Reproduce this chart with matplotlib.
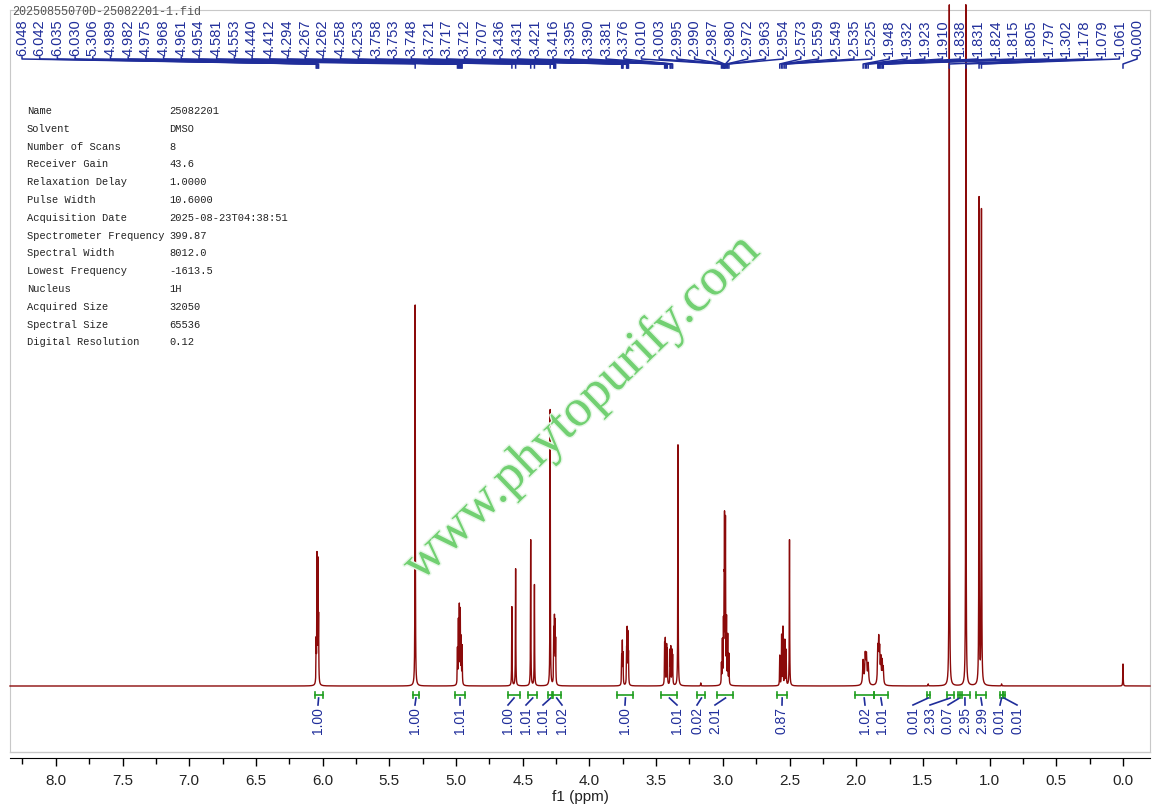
import numpy as np
import matplotlib.pyplot as plt
from matplotlib import patheffects as pe

plt.rcParams['font.family'] = ['Liberation Sans', 'DejaVu Sans']

title = '20250855070D-25082201-1.fid'

param_names = ['Name', 'Solvent', 'Number of Scans', 'Receiver Gain',
               'Relaxation Delay', 'Pulse Width', 'Acquisition Date',
               'Spectrometer Frequency', 'Spectral Width', 'Lowest Frequency',
               'Nucleus', 'Acquired Size', 'Spectral Size', 'Digital Resolution']
param_values = ['25082201', 'DMSO', '8', '43.6', '1.0000', '10.6000',
                '2025-08-23T04:38:51', '399.87', '8012.0', '-1613.5', '1H',
                '32050', '65536', '0.12']

# peak list (ppm, height in plot units, half width)
peak_ppm = [6.048, 6.042, 6.035, 6.030,
            5.306,
            4.989, 4.982, 4.975, 4.968, 4.961, 4.954,
            4.581, 4.553, 4.440, 4.412, 4.294,
            4.267, 4.262, 4.258, 4.253,
            3.758, 3.753, 3.748, 3.721, 3.717, 3.712, 3.707,
            3.436, 3.431, 3.421, 3.416, 3.395, 3.390, 3.381, 3.376,
            3.336, 3.165,
            3.010, 3.003, 2.995, 2.990, 2.987, 2.980, 2.972, 2.963, 2.954,
            2.573, 2.559, 2.549, 2.535, 2.525, 2.500,
            1.948, 1.932, 1.923, 1.910,
            1.838, 1.831, 1.824, 1.815, 1.805, 1.797,
            1.460, 1.302, 1.178, 1.079, 1.061, 0.910, 0.000]
peak_height = [40, 126, 118, 62,
               381,
               35, 62, 76, 72, 45, 38,
               79, 117, 146, 101, 276,
               52, 59, 55, 42,
               28, 41, 30, 32, 51, 48, 30,
               40, 44, 38, 34, 33, 36, 33, 28,
               241, 3,
               20, 42, 55, 75, 150, 159, 62, 48, 30,
               30, 50, 58, 45, 35, 146,
               24, 28, 27, 20,
               34, 40, 31, 24, 22, 16,
               2, 681, 681, 486, 474, 2, 22]
peak_hwhm = [0.0015] * 52 + [0.004] * 4 + [0.003] * 6 + [0.0015] * 7

label_ppm = ['6.048', '6.042', '6.035', '6.030', '5.306', '4.989', '4.982',
             '4.975', '4.968', '4.961', '4.954', '4.581', '4.553', '4.440',
             '4.412', '4.294', '4.267', '4.262', '4.258', '4.253', '3.758',
             '3.753', '3.748', '3.721', '3.717', '3.712', '3.707', '3.436',
             '3.431', '3.421', '3.416', '3.395', '3.390', '3.381', '3.376',
             '3.010', '3.003', '2.995', '2.990', '2.987', '2.980', '2.972',
             '2.963', '2.954', '2.573', '2.559', '2.549', '2.535', '2.525',
             '1.948', '1.932', '1.923', '1.910', '1.838', '1.831', '1.824',
             '1.815', '1.805', '1.797', '1.302', '1.178', '1.079', '1.061',
             '0.000']

int_start = [6.06, 5.32, 5.01, 4.61, 4.46, 4.31, 4.28, 3.79, 3.46, 3.19, 3.04,
             2.59, 2.01, 1.87, 1.47, 1.32, 1.24, 1.22, 1.10, 0.92, 0.90]
int_end = [6.00, 5.28, 4.93, 4.52, 4.39, 4.27, 4.21, 3.67, 3.34, 3.13, 2.92,
           2.52, 1.87, 1.76, 1.45, 1.27, 1.21, 1.15, 1.03, 0.90, 0.885]
int_value = ['1.00', '1.00', '1.01', '1.00', '1.01', '1.01', '1.02', '1.00',
             '1.01', '0.02', '2.01', '0.87', '1.02', '1.01', '0.01', '2.93',
             '0.07', '2.95', '2.99', '0.01', '0.01']
int_label_px = [318, 415, 460, 508, 526, 543, 562, 625, 677, 697, 715,
                782, 865, 882, 913, 930, 948, 965, 982, 1000, 1017]


def px(x):
    return (1123 - x) / 133.4


def py(y):
    return 686 - y


red = '#8b0a0a'
navy = '#1f2d9a'
green = '#1f9e1f'

fig = plt.figure(figsize=(11.52, 8.09), dpi=100)
ax = fig.add_axes([10 / 1152, 57 / 809, 1140 / 1152, 742 / 809])
x0, x1 = px(10), px(1150)
ax.set_xlim(x0, x1)
ax.set_ylim(py(752), py(10))

# spectrum
x = np.arange(x1, x0, 0.0002)
y = np.zeros_like(x)
for p, h, w in zip(peak_ppm, peak_height, peak_hwhm):
    y += h / (1 + ((x - p) / w) ** 2)
ax.plot(x, y, color=red, lw=1.0, clip_on=False, zorder=3)

# watermark
ax.text(px(582), py(408), 'www.phytopurify.com', rotation=44,
        rotation_mode='anchor', ha='center', va='center', fontsize=38,
        family='Liberation Serif', color='#72d072', zorder=4,
        path_effects=[pe.withStroke(linewidth=2, foreground='#e6f7e6')])

# peak picking labels
for i, lab in enumerate(label_ppm):
    xl = px(22 + i * 17.7)
    xp = float(lab)
    ax.plot([xl, xl, xp, xp], [py(57), py(59), py(64), py(68)],
            color=navy, lw=1.1, zorder=5)
    ax.text(xl, py(56), lab, rotation=90, ha='center', va='bottom',
            fontsize=10.5, color=navy, zorder=5)

# integrals
for s, e, v, lp in zip(int_start, int_end, int_value, int_label_px):
    ax.plot([s, e], [py(695), py(695)], color=green, lw=1.2, zorder=5)
    ax.plot([s, s], [py(692), py(698)], color=green, lw=1.2, zorder=5)
    ax.plot([e, e], [py(692), py(698)], color=green, lw=1.2, zorder=5)
    xl = px(lp)
    ax.plot([(s + e) / 2, xl], [py(698), py(705)], color=navy, lw=1.2, zorder=5)
    ax.text(xl, py(707), v, rotation=90, ha='center', va='top',
            fontsize=10, color=navy, zorder=5)

# acquisition parameters
for i, (n, v) in enumerate(zip(param_names, param_values)):
    yy = py(111 + i * 17.8)
    ax.text(px(27), yy, n, fontsize=7.5, family='Liberation Mono',
            va='center', ha='left', color='#222222')
    ax.text(px(169), yy, v, fontsize=7.5, family='Liberation Mono',
            va='center', ha='left', color='#222222')

fig.text(12 / 1152, 1 - 12 / 809, title, fontsize=8.5, family='Liberation Mono',
         color='#555555', va='center', ha='left')

# axes styling
for side in ['left', 'top', 'right']:
    ax.spines[side].set_color('#c8c8c8')
ax.spines['bottom'].set_position(('outward', 4))
ax.spines['bottom'].set_color('black')
ax.plot([x0, x1], [py(752), py(752)], color='#c8c8c8', lw=1, clip_on=False)
ax.set_yticks([])
ax.set_xticks(np.arange(0, 8.01, 0.5))
ax.set_xticks(np.arange(0.25, 8.3, 0.5), minor=True)
ax.set_xticklabels(['%.1f' % t for t in np.arange(0, 8.01, 0.5)])
ax.tick_params(axis='x', which='major', direction='out', length=6, width=1,
               labelsize=11, pad=6, labelcolor='#222222')
ax.tick_params(axis='x', which='minor', direction='out', length=4, width=1)
ax.set_xlabel('f1 (ppm)', fontsize=11, labelpad=1, color='#222222')

fig.savefig('out.png', dpi=100)
